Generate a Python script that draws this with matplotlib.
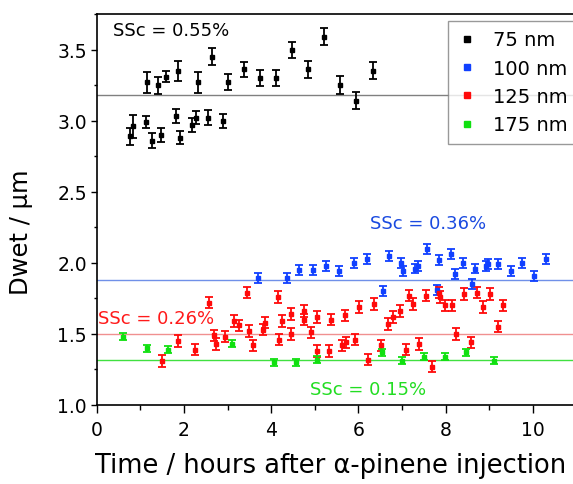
import matplotlib
matplotlib.use("Agg")
import matplotlib.pyplot as plt
from matplotlib.ticker import MultipleLocator

plt.rcParams['font.family'] = ['DejaVu Sans']

# ---- data ----
x75 = [0.77, 0.84, 1.13, 1.15, 1.27, 1.40, 1.48, 1.59, 1.83, 1.87, 1.90, 2.18, 2.28, 2.32,
       2.55, 2.65, 2.90, 3.00, 3.37, 3.75, 4.11, 4.47, 4.85, 5.22, 5.58, 5.95, 6.34]
y75 = [2.89, 2.96, 2.99, 3.27, 2.86, 3.25, 2.90, 3.31, 3.03, 3.35, 2.88, 2.97, 3.02, 3.27,
       3.02, 3.45, 3.00, 3.27, 3.36, 3.30, 3.30, 3.50, 3.36, 3.59, 3.25, 3.14, 3.35]
e75 = [0.06, 0.08, 0.045, 0.073, 0.055, 0.06, 0.05, 0.04, 0.05, 0.07, 0.047, 0.05, 0.047, 0.075,
       0.053, 0.06, 0.05, 0.055, 0.05, 0.057, 0.058, 0.056, 0.057, 0.059, 0.061, 0.058, 0.059]

x100 = [3.69, 4.36, 4.65, 4.95, 5.26, 5.56, 5.89, 6.19, 6.57, 6.70, 6.97, 7.03, 7.30, 7.38,
        7.58, 7.81, 7.84, 8.12, 8.21, 8.41, 8.60, 8.68, 8.93, 8.98, 9.21, 9.50, 9.75, 10.02, 10.31]
y100 = [1.89, 1.89, 1.95, 1.95, 1.98, 1.94, 2.00, 2.03, 1.80, 2.05, 2.00, 1.94, 1.96, 1.98,
        2.10, 1.81, 2.02, 2.06, 1.92, 2.00, 1.85, 1.96, 1.98, 1.99, 1.99, 1.94, 2.00, 1.91, 2.03]
e100 = 0.035

x125 = [1.50, 1.86, 2.26, 2.58, 2.68, 2.74, 2.94, 3.15, 3.26, 3.45, 3.49, 3.58, 3.81, 3.86,
        4.16, 4.17, 4.25, 4.46, 4.46, 4.75, 4.75, 4.92, 5.05, 5.05, 5.33, 5.37, 5.63, 5.70,
        5.72, 5.93, 6.02, 6.23, 6.36, 6.51, 6.67, 6.80, 6.96, 7.09, 7.17, 7.25, 7.39, 7.55,
        7.69, 7.84, 7.87, 7.99, 8.14, 8.24, 8.43, 8.58, 8.72, 8.87, 9.02, 9.20, 9.33]
y125 = [1.31, 1.45, 1.39, 1.72, 1.49, 1.43, 1.48, 1.59, 1.56, 1.79, 1.52, 1.42, 1.53, 1.58,
        1.76, 1.46, 1.59, 1.64, 1.50, 1.66, 1.60, 1.51, 1.62, 1.38, 1.38, 1.60, 1.42, 1.63,
        1.44, 1.46, 1.69, 1.32, 1.71, 1.42, 1.57, 1.62, 1.66, 1.39, 1.77, 1.71, 1.43, 1.77,
        1.27, 1.79, 1.76, 1.70, 1.70, 1.50, 1.78, 1.44, 1.79, 1.69, 1.78, 1.55, 1.70]
e125 = 0.04

x175 = [0.61, 1.16, 1.64, 3.11, 4.07, 4.56, 5.05, 6.54, 7.00, 7.51, 7.99, 8.47, 9.11]
y175 = [1.48, 1.40, 1.39, 1.43, 1.30, 1.30, 1.32, 1.37, 1.31, 1.34, 1.34, 1.37, 1.31]
e175 = 0.025

levels = [3.18, 1.88, 1.50, 1.32]
ssc_labels = ['SSc = 0.55%', 'SSc = 0.36%', 'SSc = 0.26%', 'SSc = 0.15%']
ssc_pos = [(0.37, 3.64), (6.27, 2.28), (0.02, 1.61), (4.89, 1.11)]
series_labels = ['75 nm', '100 nm', '125 nm', '175 nm']

pt_colors = ['#000000', '#1040ff', '#ff0a0a', '#10e010']
line_colors = ['#808080', '#7090e8', '#f09090', '#40e040']
txt_colors = ['#000000', '#1a4ae0', '#ff1a1a', '#22dd22']

# ---- figure ----
W, H = 573, 485
fig = plt.figure(figsize=(W / 100, H / 100), dpi=100)
L, R, T, B = 96.7, 576.3, 15.0, 406.0
ax = fig.add_axes([L / W, 1 - B / H, (R - L) / W, (B - T) / H])

ax.set_xlim(0, 11)
ax.set_ylim(1.0, 3.75)

for lv, lc in zip(levels, line_colors):
    ax.axhline(lv, color=lc, lw=1.0, zorder=1)

data = [(x75, y75, e75), (x100, y100, e100), (x125, y125, e125), (x175, y175, e175)]
for (xs, ys, es), c, lab in zip(data, pt_colors, series_labels):
    ax.errorbar(xs, ys, yerr=es, fmt='s', ms=3, color=c, ecolor=c,
                elinewidth=1.3, capsize=2.8, capthick=1.3, zorder=3)
    ax.plot([], [], 's', ms=5, color=c, label=lab)

for (tx, ty), s, c in zip(ssc_pos, ssc_labels, txt_colors):
    ax.text(tx, ty, s, color=c, fontsize=13, ha='left', va='center', zorder=4)

ax.xaxis.set_major_locator(MultipleLocator(2))
ax.xaxis.set_minor_locator(MultipleLocator(1))
ax.yaxis.set_major_locator(MultipleLocator(0.5))
ax.yaxis.set_minor_locator(MultipleLocator(0.25))
ax.tick_params(axis='both', which='both', direction='out', labelsize=13.5, width=1.0)
ax.tick_params(axis='x', which='major', length=6, pad=5)
ax.tick_params(axis='x', which='minor', length=3.5)
ax.tick_params(axis='y', which='major', length=4, pad=3)
ax.tick_params(axis='y', which='minor', length=2.5)
ax.set_yticks([1.0, 1.5, 2.0, 2.5, 3.0, 3.5])
ax.set_yticklabels(['1.0', '1.5', '2.0', '2.5', '3.0', '3.5'])

for sp in ax.spines.values():
    sp.set_linewidth(1.2)

ax.set_xlabel('Time / hours after α-pinene injection', fontsize=18.5, va='center')
ax.xaxis.set_label_coords(0.4885, -0.153)
ax.set_ylabel('Dwet / µm', fontsize=17.5, va='center')
ax.yaxis.set_label_coords(-0.158, 0.445)

leg = ax.legend(loc='upper left', bbox_to_anchor=(0.7325, 0.983), borderaxespad=0,
                fontsize=14, frameon=True, fancybox=False, handlelength=1.0,
                handletextpad=0.8, labelspacing=0.48, borderpad=0.5)
leg.get_frame().set_edgecolor('#808080')
leg.get_frame().set_linewidth(1.0)

fig.savefig('out.png', dpi=100)
